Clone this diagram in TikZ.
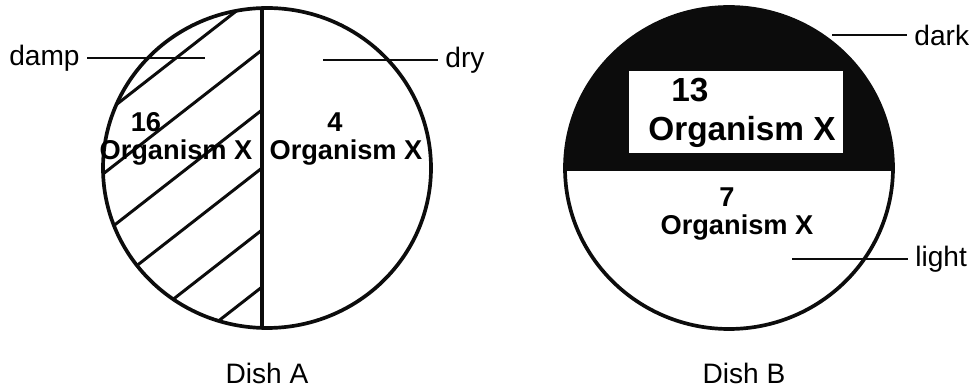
\documentclass[tikz,border=0pt]{standalone}
\usepackage{fontspec}
\setmainfont{Liberation Sans}
\usepackage{tikz}
\usetikzlibrary{positioning}
\definecolor{inkdark}{RGB}{12,12,12}
\tikzset{
  dish/.style={draw=inkdark, line width=2.1pt},
  hatchline/.style={draw=inkdark, line width=1.7pt},
  leader/.style={draw=inkdark, line width=1.1pt},
  lbl/.style={font=\fontsize{16}{18}\selectfont, inner xsep=4pt, inner ysep=1pt},
  count/.style={font=\fontsize{15.5}{17}\selectfont\bfseries, inner sep=0pt},
  bigcount/.style={font=\fontsize{19}{21}\selectfont\bfseries, inner sep=0pt}
}

\begin{document}
\begin{tikzpicture}[x=0.02cm, y=-0.02cm]
  \useasboundingbox (0,0) rectangle (975,391);

  % Dish A
  \coordinate (ca) at (267,168);
  \begin{scope}
    \clip (ca) ellipse [x radius=164, y radius=160];
    \clip (0,0) rectangle (262,391);
    \foreach \c in {-9,50,110,168,230,287}
      \draw[hatchline] (262,\c) -- ++(-300,234);
  \end{scope}
  \draw[dish] (ca) ellipse [x radius=164, y radius=160];
  \coordinate (atop) at (262,8);
  \coordinate (abot) at (262,328);
  \draw[dish] (atop) -- (abot);

  \node[count] (n16) at (146,122) {16};
  \node[count] (orgdamp) at (176,153) {Organism X};
  \node[count] (n4) at (335,122) {4};
  \node[count] (orgdry) at (346,153) {Organism X};

  \coordinate (dampin) at (205,58);
  \coordinate (dampend) at (87,58);
  \node[lbl, left=0pt of dampend] (damp) {damp};
  \draw[leader] (damp) -- (dampin);
  \coordinate (dryin) at (323,60);
  \coordinate (dryend) at (438,60);
  \node[lbl, right=0pt of dryend] (dry) {dry};
  \draw[leader] (dryin) -- (dry);

  \node[lbl] (disha) at (267,373) {Dish A};

  % Dish B
  \coordinate (cb) at (729,168);
  \begin{scope}
    \clip (cb) ellipse [x radius=164, y radius=161];
    \fill[inkdark] (560,0) rectangle (900,171);
  \end{scope}
  \node[fill=white, minimum width=4.28cm, minimum height=1.64cm] (darkbox) at (736,112) {};
  \draw[dish] (cb) ellipse [x radius=164, y radius=161];

  \node[bigcount] (n13) at (690,90) {13};
  \node[bigcount] (orgdark) at (742,132) {Organism X};
  \node[count] (n7) at (727,197) {7};
  \node[count] (orglight) at (737,228) {Organism X};

  \coordinate (darkin) at (832,35);
  \coordinate (darkend) at (907,35);
  \node[lbl, right=0pt of darkend] (dark) {dark};
  \draw[leader] (darkin) -- (dark);
  \coordinate (lightin) at (792,259);
  \coordinate (lightend) at (908,259);
  \node[lbl, right=0pt of lightend] (light) {light};
  \draw[leader] (lightin) -- (light);

  \node[lbl] (dishb) at (744,373) {Dish B};
\end{tikzpicture}
\end{document}
